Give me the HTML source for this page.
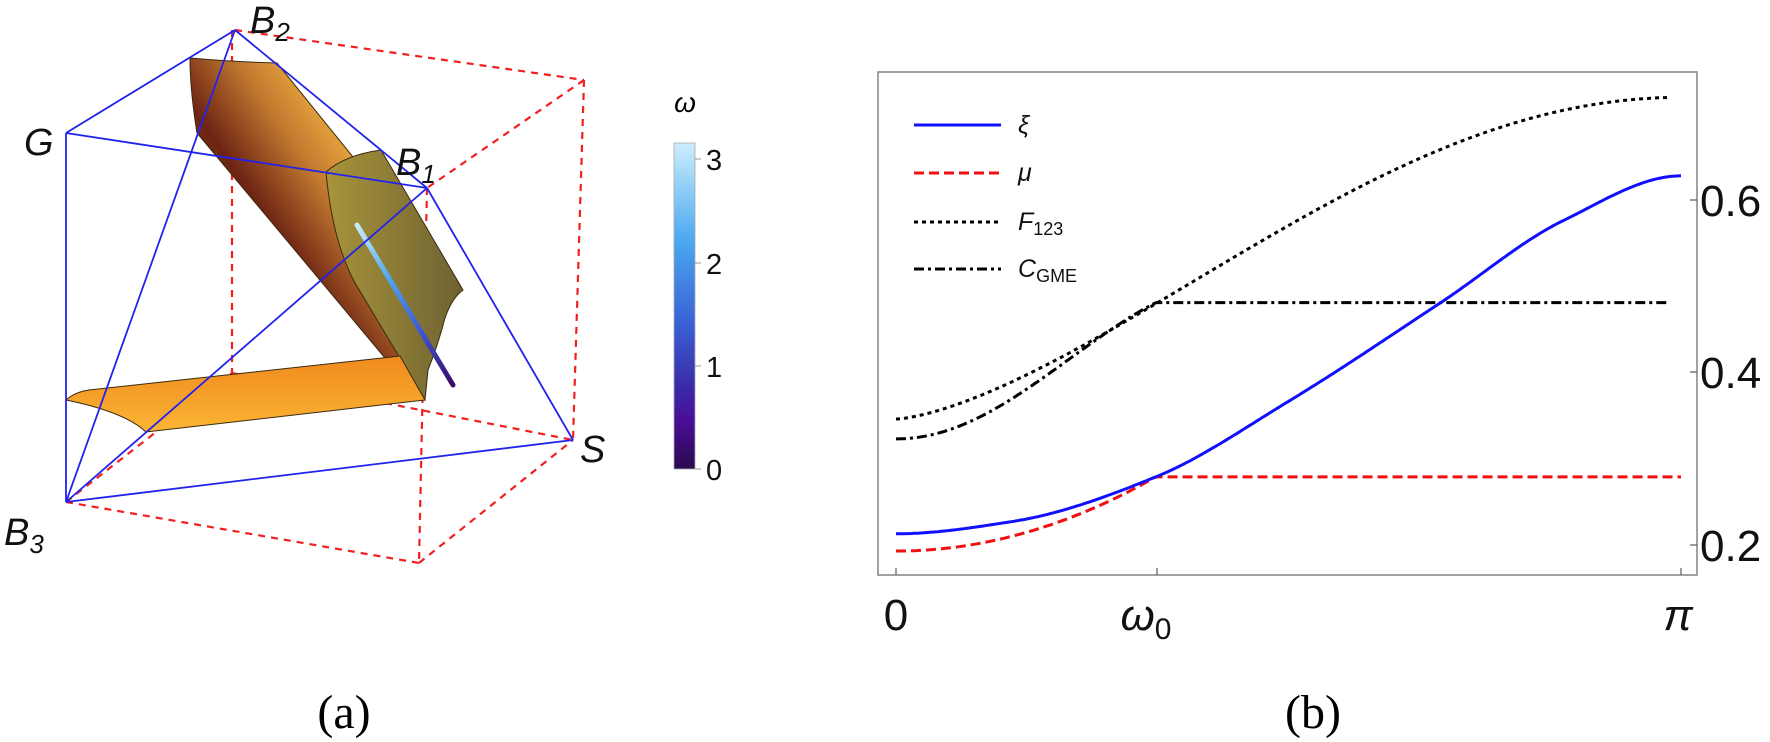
<!DOCTYPE html>
<html><head><meta charset="utf-8"><style>
html,body{margin:0;padding:0;background:#fff;}
svg{display:block;}
text{font-family:"Liberation Sans",sans-serif;}
</style></head><body>
<svg id="s" width="1770" height="742" viewBox="0 0 1770 742" xmlns="http://www.w3.org/2000/svg">
<defs>
<linearGradient id="brown" x1="197" y1="200" x2="330" y2="110" gradientUnits="userSpaceOnUse">
<stop offset="0" stop-color="#8a3418"/><stop offset="0.3" stop-color="#6e2413"/><stop offset="0.7" stop-color="#c27a30"/><stop offset="1" stop-color="#eaa83e"/></linearGradient>
<linearGradient id="green" x1="0" y1="0" x2="1" y2="0">
<stop offset="0" stop-color="#a8943a"/><stop offset="1" stop-color="#6e6232"/></linearGradient>
<linearGradient id="slab" x1="0" y1="0" x2="0" y2="1">
<stop offset="0" stop-color="#f08a1e"/><stop offset="1" stop-color="#fbb534"/></linearGradient>
<linearGradient id="tube" x1="357" y1="225" x2="453" y2="385" gradientUnits="userSpaceOnUse">
<stop offset="0" stop-color="#c8ecfb"/><stop offset="0.35" stop-color="#4aa3ef"/><stop offset="0.7" stop-color="#3b4fcf"/><stop offset="1" stop-color="#3a0c66"/></linearGradient>
<linearGradient id="cbar" x1="0" y1="0" x2="0" y2="1">
<stop offset="0" stop-color="#cdeefc"/><stop offset="0.3" stop-color="#4aa8f0"/><stop offset="0.55" stop-color="#3a62d6"/><stop offset="0.75" stop-color="#3a2aa8"/><stop offset="0.85" stop-color="#4a0e98"/><stop offset="1" stop-color="#2a0a4e"/></linearGradient>
</defs>

<g stroke="#f02020" stroke-width="2.2" stroke-dasharray="7,6" fill="none">
<line x1="235" y1="30" x2="584" y2="80"/>
<line x1="584" y1="80" x2="427" y2="188"/>
<line x1="584" y1="80" x2="573" y2="440"/>
<line x1="232" y1="30" x2="232" y2="373"/>
<line x1="427" y1="188" x2="419" y2="563"/>
<line x1="66" y1="502" x2="232" y2="373"/>
<line x1="232" y1="373" x2="573" y2="440"/>
<line x1="66" y1="502" x2="419" y2="563"/>
<line x1="419" y1="563" x2="573" y2="440"/>
</g>

<path d="M190,58 Q235,62 277,63 L353,157 L326,172 L425,400 L400,360 L385,358 L197,133 Q190,90 190,58 Z" fill="url(#brown)" stroke="#3a2a10" stroke-width="1"/>
<path d="M326,172 Q345,155 381,150 L463,290 Q452,298 445,318 Q438,345 428,370 L425,400 L355,283 Q332,240 326,172 Z" fill="url(#green)" stroke="#3a2a10" stroke-width="1"/>
<path d="M66,400 Q75,392 89,390 L400,356 L425,400 L146,432 Q125,412 66,400 Z" fill="url(#slab)" stroke="#3a2a10" stroke-width="1"/>
<line x1="357" y1="225" x2="453" y2="385" stroke="url(#tube)" stroke-width="5" stroke-linecap="round"/>

<g stroke="#2222ee" stroke-width="1.8" fill="none">
<line x1="66" y1="133" x2="235" y2="30"/>
<line x1="66" y1="133" x2="427" y2="188"/>
<line x1="66" y1="133" x2="66" y2="502"/>
<line x1="235" y1="30" x2="66" y2="502"/>
<line x1="235" y1="30" x2="427" y2="188"/>
<line x1="427" y1="188" x2="573" y2="440"/>
<line x1="66" y1="502" x2="427" y2="188"/>
<line x1="66" y1="502" x2="573" y2="440"/>
</g>

<g font-style="italic" font-size="38" fill="#111">
<text x="250" y="33">B<tspan font-size="26" dy="8">2</tspan></text>
<text x="24" y="155">G</text>
<text x="396" y="175">B<tspan font-size="26" dy="8">1</tspan></text>
<text x="580" y="462">S</text>
<text x="4" y="545">B<tspan font-size="26" dy="8">3</tspan></text>
</g>

<rect x="674" y="143" width="21" height="326" fill="url(#cbar)" stroke="#aaa" stroke-width="0.8"/>
<g stroke="#999" stroke-width="1">
<line x1="695" y1="159" x2="701" y2="159"/><line x1="695" y1="263" x2="701" y2="263"/>
<line x1="695" y1="366" x2="701" y2="366"/><line x1="695" y1="469" x2="701" y2="469"/>
</g>
<text x="685" y="112" font-size="28" font-style="italic" text-anchor="middle">ω</text>
<g font-size="29" fill="#111">
<text x="706" y="170">3</text><text x="706" y="274">2</text><text x="706" y="377">1</text><text x="706" y="480">0</text>
</g>

<rect x="878" y="72" width="819" height="503" fill="none" stroke="#8a8a8a" stroke-width="1.6"/>
<g stroke="#666" stroke-width="1.3">
<line x1="896" y1="575" x2="896" y2="568"/><line x1="1157" y1="575" x2="1157" y2="568"/><line x1="1681" y1="575" x2="1681" y2="568"/>
<line x1="1697" y1="200" x2="1690" y2="200"/><line x1="1697" y1="372" x2="1690" y2="372"/><line x1="1697" y1="545" x2="1690" y2="545"/>
</g>
<g font-size="44" fill="#111">
<text x="1700" y="216">0.6</text><text x="1700" y="388">0.4</text><text x="1700" y="561">0.2</text>
<text x="896" y="630" text-anchor="middle">0</text>
<text x="1146" y="630" text-anchor="middle" font-style="italic">ω<tspan font-size="30" font-style="normal" dy="9">0</tspan></text>
<text x="1678" y="630" text-anchor="middle" font-style="italic">π</text>
</g>
<g id="curves" fill="none" stroke-width="3"></g>

<line x1="914" y1="125" x2="1001" y2="125" stroke="#1010ff" stroke-width="3"/>
<line x1="914" y1="173" x2="1001" y2="173" stroke="#f01010" stroke-width="3" stroke-dasharray="10,5"/>
<line x1="914" y1="222" x2="1001" y2="222" stroke="#000" stroke-width="3" stroke-dasharray="4,4"/>
<line x1="914" y1="269" x2="1001" y2="269" stroke="#000" stroke-width="3" stroke-dasharray="10,4,3,4"/>
<g font-size="25" font-style="italic" fill="#111">
<text x="1018" y="133">ξ</text>
<text x="1018" y="181">μ</text>
<text x="1018" y="230">F<tspan font-size="18" font-style="normal" dy="5">123</tspan></text>
<text x="1018" y="277">C<tspan font-size="18" font-style="normal" dy="5">GME</tspan></text>
</g>

<text x="344" y="728" text-anchor="middle" font-size="48" style="font-family:'Liberation Serif',serif">(a)</text>
<text x="1313" y="728" text-anchor="middle" font-size="48" style="font-family:'Liberation Serif',serif">(b)</text>
</svg>
<script>
function pchip(xs,ys){
 var n=xs.length,h=[],d=[],m=[];
 for(var i=0;i<n-1;i++){h[i]=xs[i+1]-xs[i];d[i]=(ys[i+1]-ys[i])/h[i];}
 m[0]=0;m[n-1]=0;
 for(var i=1;i<n-1;i++){ if(d[i-1]*d[i]<=0)m[i]=0; else {var w1=2*h[i]+h[i-1],w2=h[i]+2*h[i-1]; m[i]=(w1+w2)/(w1/d[i-1]+w2/d[i]);} }
 return function(x){var i=0;while(i<n-2&&x>xs[i+1])i++;var t=(x-xs[i])/h[i],t2=t*t,t3=t2*t;
  return (2*t3-3*t2+1)*ys[i]+(t3-2*t2+t)*h[i]*m[i]+(-2*t3+3*t2)*ys[i+1]+(t3-t2)*h[i]*m[i+1];};
}
var X=function(t){return 896+t*785;},Y=function(v){return 200+(0.6-v)*862.5;};
var w0=0.331;
var g0=function(t){return (1-Math.cos(Math.PI*t))/2;};
var hx=pchip([0,0.15,0.331,0.5,0.694,0.85,1],[0,0.035,0.159,0.37,0.646,0.875,1]);
var xi=function(t){return 0.213+0.415*hx(t);};
var F=function(t){return 0.346+0.373*Math.pow(g0(t),0.733);};
var mu=function(t){return t<w0?0.193+(0.279-0.193)*Math.pow(t/w0,2):0.279;};
var C=function(t){return t<w0?0.323+(0.481-0.323)*g0(t/w0*0.75)/g0(0.75):0.481;};
function path(f,t1){var s="";for(var k=0;k<=300;k++){var t=k/300*t1;s+=(k?"L":"M")+X(t).toFixed(1)+","+Y(f(t)).toFixed(1);}return s;}
var g=document.getElementById("curves"),ns="http://www.w3.org/2000/svg";
function add(d,c,da){var p=document.createElementNS(ns,"path");p.setAttribute("d",d);p.setAttribute("stroke",c);if(da)p.setAttribute("stroke-dasharray",da);g.appendChild(p);}
add(path(F,0.985),"#000","4,4");
add(path(C,0.985),"#000","10,4,3,4");
add(path(mu,1),"#f01010","10,5");
add(path(xi,1),"#1010ff",null);
</script>
</body></html>
